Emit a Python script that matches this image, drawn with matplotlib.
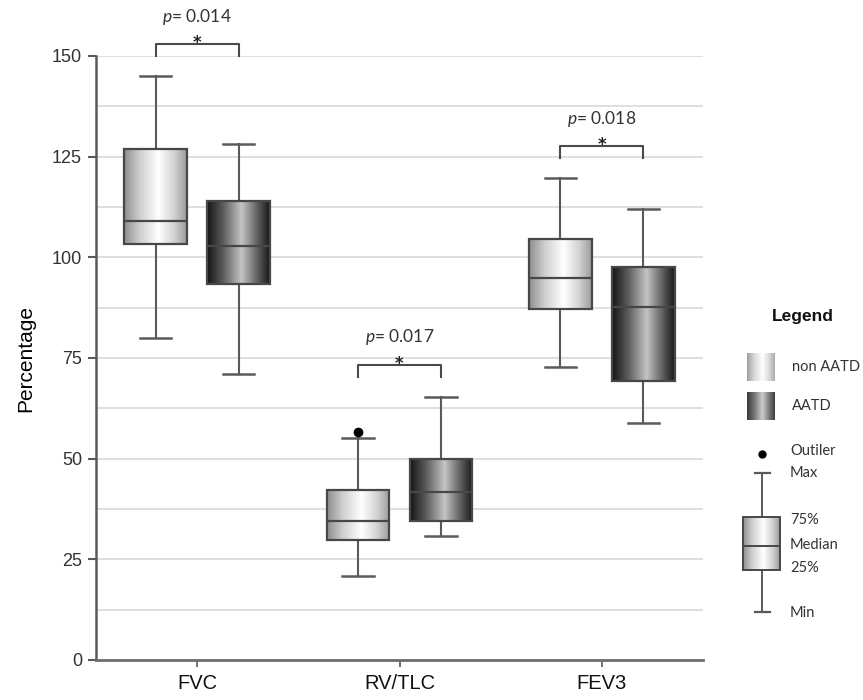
"""
Box plots of lung function (FVC, RV/TLC, FEV3) for non AATD vs AATD.
"""

import numpy as np
import matplotlib.pyplot as plt
from matplotlib.colors import LinearSegmentedColormap
from matplotlib.patches import Rectangle

plt.rcParams["mathtext.fontset"] = "custom"
plt.rcParams["mathtext.it"] = "Lato:italic"
plt.rcParams["mathtext.rm"] = "Lato"

categories = ["FVC", "RV/TLC", "FEV3"]
groups = ["non AATD", "AATD"]

# [min, q1, median, q3, max]
non_aatd = [[80.0, 103.4, 109.0, 127.0, 145.0],
            [20.8, 29.8, 34.6, 42.1, 55.1],
            [72.8, 87.1, 94.8, 104.6, 119.6]]
aatd = [[71.1, 93.5, 102.8, 114.0, 128.1],
        [30.7, 34.6, 41.6, 49.8, 65.3],
        [58.8, 69.2, 87.6, 97.5, 111.9]]
outliers_non = [[], [56.5], []]
outliers_aatd = [[], [], []]
p_values = ["0.014", "0.017", "0.018"]

LIGHT = LinearSegmentedColormap.from_list(
    "light", [(0, "#8e8e8e"), (0.25, "#cfcfcf"), (0.55, "#ffffff"), (0.8, "#d2d2d2"), (1, "#9a9a9a")])
DARK = LinearSegmentedColormap.from_list(
    "dark", [(0, "#141414"), (0.25, "#5a5a5a"), (0.55, "#c4c4c4"), (0.8, "#606060"), (1, "#181818")])
EDGE = "#474747"
GRAD = np.linspace(0, 1, 256).reshape(1, -1)


def make_stats(rows, fliers):
    out = []
    for (lo, q1, med, q3, hi), fl in zip(rows, fliers):
        out.append(dict(whislo=lo, q1=q1, med=med, q3=q3, whishi=hi, fliers=fl))
    return out


fig = plt.figure(figsize=(8.63, 7.0), dpi=100)
ax = fig.add_axes([96 / 863, 1 - 660 / 700, (703 - 96) / 863, 604 / 700])

offset = 0.205
width = 0.31
x = np.arange(len(categories))

for stats, pos, cmap in [(make_stats(non_aatd, outliers_non), x - offset, LIGHT),
                         (make_stats(aatd, outliers_aatd), x + offset, DARK)]:
    art = ax.bxp(stats, positions=pos, widths=width, capwidths=width / 2,
                 patch_artist=True, manage_ticks=False,
                 boxprops=dict(facecolor="none", edgecolor=EDGE, linewidth=1.6),
                 whiskerprops=dict(color="#5a5a5a", linewidth=1.5),
                 capprops=dict(color="#5a5a5a", linewidth=1.8),
                 medianprops=dict(color=EDGE, linewidth=1.6),
                 flierprops=dict(marker="o", markerfacecolor="black", markeredgecolor="black", markersize=6))
    for box, s, p in zip(art["boxes"], stats, pos):
        im = ax.imshow(GRAD, cmap=cmap, aspect="auto", zorder=2,
                       extent=[p - width / 2, p + width / 2, s["q1"], s["q3"]])
        im.set_clip_path(box)
        box.set_zorder(3)
    for m in art["medians"]:
        m.set_zorder(4)

# significance brackets
for i, pv in enumerate(p_values):
    top = max(non_aatd[i][4], aatd[i][4]) + 8
    x0, x1 = i - offset, i + offset
    ax.plot([x0, x0, x1, x1], [top - 3, top, top, top - 3], color="#4a4a4a", lw=1.5, clip_on=False)
    ax.text(i, top - 1.0, "*", ha="center", va="baseline", fontsize=12, fontweight="bold",
            family="DejaVu Sans", color="#222222")
    ax.text(i, top + 6.8, r"$p$= " + pv, ha="center", va="center", fontsize=12.5,
            family="Lato", color="#333333")

ax.set_xlim(-0.5, 2.5)
ax.set_ylim(0, 150)
ax.set_yticks(np.arange(0, 151, 25))
ax.set_yticks(np.arange(12.5, 150, 25), minor=True)
ax.set_xticks(x)
ax.set_xticklabels(categories, fontsize=14.5, family="Liberation Sans")
ax.tick_params(axis="y", which="major", length=6, width=1.5, color="#5a5a5a",
               labelsize=13, labelcolor="#333333", pad=4)
ax.tick_params(axis="y", which="minor", length=0)
ax.tick_params(axis="x", length=5, width=1.2, color="#5a5a5a", labelcolor="#111111", pad=5)
for lab in ax.get_yticklabels():
    lab.set_family("Liberation Sans")
ax.grid(axis="y", which="both", color="#dcdcdc", linewidth=1.3, zorder=0)
ax.set_axisbelow(True)
ax.spines["top"].set_visible(False)
ax.spines["right"].set_visible(False)
ax.spines["left"].set_color("#5a5a5a")
ax.spines["left"].set_linewidth(1.8)
ax.spines["bottom"].set_color("#6e6e6e")
ax.spines["bottom"].set_linewidth(2.0)
ax.set_ylabel("Percentage", fontsize=15, family="Liberation Sans", labelpad=12)

# legend drawn in pixel coordinates
lg = fig.add_axes([0, 0, 1, 1])
lg.set_xlim(0, 863)
lg.set_ylim(700, 0)
lg.axis("off")
lg.patch.set_alpha(0)

lg.text(803, 317, "Legend", ha="center", va="center", fontsize=12.5, fontweight="bold",
        family="Liberation Sans", color="#111111")
for yc, cmap, label in [(367, LIGHT, groups[0]), (406, DARK, groups[1])]:
    lg.imshow(GRAD, cmap=cmap, aspect="auto", extent=[747, 774, yc + 14, yc - 14], alpha=0.85)
    lg.text(792, yc, label, ha="left", va="center", fontsize=10.5, family="Lato", color="#333333")

lg.plot([762], [454], marker="o", color="black", markersize=5)
lg.plot([762, 762], [473, 612], color="#5a5a5a", lw=1.4)
for yc in (473, 612):
    lg.plot([755, 770], [yc, yc], color="#5a5a5a", lw=1.6)
box = Rectangle((743, 517), 37, 53, facecolor="none", edgecolor=EDGE, lw=1.4, zorder=3)
lg.add_patch(box)
im = lg.imshow(GRAD, cmap=LIGHT, aspect="auto", extent=[743, 780, 570, 517], zorder=2)
im.set_clip_path(box)
lg.plot([743, 780], [546, 546], color=EDGE, lw=1.4, zorder=4)
lg.set_xlim(0, 863)
lg.set_ylim(700, 0)
for yc, label in [(451, "Outiler"), (473, "Max"), (520, "75%"), (545, "Median"),
                  (568, "25%"), (613, "Min")]:
    lg.text(790, yc, label, ha="left", va="center", fontsize=10.5, family="Lato", color="#333333")

fig.savefig("out.png", dpi=100)
